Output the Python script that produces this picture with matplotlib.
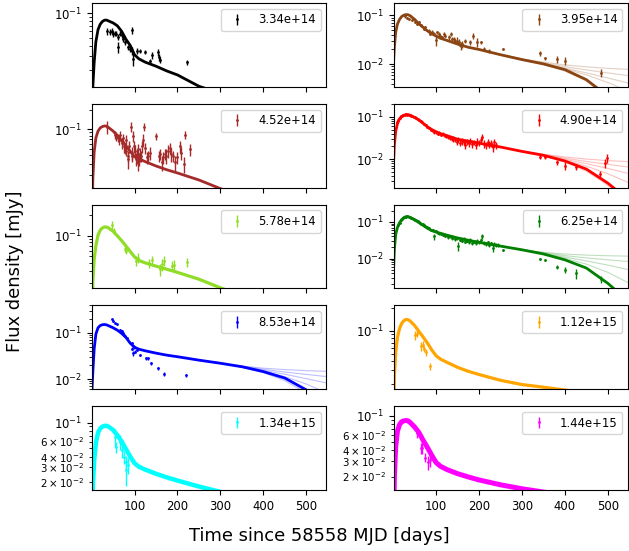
import matplotlib
matplotlib.use('Agg')
import matplotlib.pyplot as plt

# frequencies of the ten bands (one panel each, row by row)
freqs = [3.34e14, 3.95e14, 4.52e14, 4.90e14, 5.78e14,
         6.25e14, 8.53e14, 1.12e15, 1.34e15, 1.44e15]
colors = ['black', 'saddlebrown', 'brown', 'red', '#90dd28',
          'green', 'blue', 'orange', 'cyan', 'magenta']

# model light curves (median)
t_model = [1, 3, 6, 10, 15, 20, 25, 30, 35, 40, 50, 60, 70, 80, 90, 100,
           110, 125, 150, 175, 200, 250, 300, 350, 400, 450, 500, 547]
m_334 = [0.004, 0.013, 0.025, 0.045, 0.063, 0.073, 0.079, 0.082, 0.0822, 0.080,
         0.076, 0.070, 0.060, 0.048, 0.0403, 0.031, 0.0277, 0.0252, 0.0225, 0.0197,
         0.0176, 0.0128, 0.0105, 0.009, 0.008, 0.007, 0.006, 0.0055]
m_395 = [0.011, 0.022, 0.045, 0.066, 0.083, 0.095, 0.101, 0.104, 0.103, 0.098,
         0.083, 0.067, 0.057, 0.048, 0.042, 0.0378, 0.034, 0.0308, 0.0258, 0.0222,
         0.020, 0.0156, 0.0124, 0.0101, 0.0077, 0.0048, 0.0022, 0.0008]
m_452 = [0.004, 0.018, 0.045, 0.074, 0.094, 0.105, 0.110, 0.1125, 0.112, 0.106,
         0.094, 0.080, 0.067, 0.056, 0.046, 0.038, 0.0355, 0.032, 0.0275, 0.0241,
         0.0215, 0.0168, 0.0124, 0.0095, 0.0075, 0.006, 0.005, 0.004]
m_490 = [0.008, 0.022, 0.045, 0.068, 0.090, 0.102, 0.109, 0.113, 0.113, 0.109,
         0.097, 0.084, 0.070, 0.058, 0.050, 0.0445, 0.040, 0.036, 0.0295, 0.0266,
         0.0238, 0.0193, 0.0152, 0.0123, 0.0090, 0.0058, 0.0027, 0.0011]
m_578 = [0.006, 0.022, 0.045, 0.072, 0.103, 0.121, 0.131, 0.1355, 0.135, 0.130,
         0.117, 0.100, 0.085, 0.071, 0.059, 0.049, 0.0435, 0.040, 0.0358, 0.0323,
         0.029, 0.023, 0.0172, 0.013, 0.010, 0.008, 0.0065, 0.0055]
m_625 = [0.005, 0.018, 0.045, 0.070, 0.095, 0.115, 0.131, 0.139, 0.139, 0.131,
         0.113, 0.096, 0.080, 0.067, 0.058, 0.053, 0.049, 0.0435, 0.0365, 0.0316,
         0.0276, 0.0218, 0.0173, 0.0133, 0.0092, 0.0055, 0.0021, 0.0007]
m_853 = [0.006, 0.015, 0.045, 0.095, 0.130, 0.145, 0.151, 0.153, 0.150, 0.143,
         0.130, 0.115, 0.098, 0.080, 0.060, 0.049, 0.0445, 0.041, 0.0365, 0.033,
         0.0305, 0.0257, 0.022, 0.0185, 0.0145, 0.0105, 0.0058, 0.0025]
m_112 = [0.008, 0.025, 0.052, 0.082, 0.108, 0.126, 0.137, 0.142, 0.141, 0.135,
         0.118, 0.099, 0.083, 0.069, 0.056, 0.047, 0.0425, 0.0385, 0.033, 0.0292,
         0.0265, 0.0222, 0.0195, 0.018, 0.0165, 0.015, 0.014, 0.013]
m_134 = [0.006, 0.018, 0.036, 0.058, 0.076, 0.085, 0.0895, 0.0915, 0.0915, 0.089,
         0.082, 0.071, 0.060, 0.049, 0.040, 0.0335, 0.0305, 0.0282, 0.0252, 0.0229,
         0.021, 0.0179, 0.0155, 0.0137, 0.0123, 0.011, 0.010, 0.0093]
m_144 = [0.006, 0.020, 0.044, 0.066, 0.079, 0.085, 0.087, 0.0878, 0.087, 0.083,
         0.074, 0.064, 0.052, 0.043, 0.035, 0.029, 0.0263, 0.0241, 0.0216, 0.0198,
         0.0183, 0.0161, 0.0145, 0.0133, 0.0122, 0.0113, 0.0106, 0.010]
# apparent width of the band of model realisations
band_lw = [2, 2, 2, 2, 2.3, 2, 2, 2.3, 3.2, 3.6]

# spread of the model realisations at late times
t_fan = [250, 300, 350, 400, 450, 500, 547]
fan_395 = [[0.0157, 0.0128, 0.0110, 0.0096, 0.0088, 0.0082, 0.0078],
           [0.0157, 0.0127, 0.0106, 0.0089, 0.0076, 0.0066, 0.0058],
           [0.0156, 0.0125, 0.0103, 0.0083, 0.0066, 0.0052, 0.0041],
           [0.0156, 0.0124, 0.0100, 0.0080, 0.0060, 0.0042, 0.0028],
           [0.0155, 0.0122, 0.0098, 0.0072, 0.0045, 0.0020, 0.0007]]
fan_490 = [[0.0194, 0.0156, 0.0130, 0.0112, 0.0100, 0.0092, 0.0087],
           [0.0194, 0.0155, 0.0127, 0.0105, 0.0088, 0.0075, 0.0065],
           [0.0193, 0.0153, 0.0124, 0.0099, 0.0078, 0.0060, 0.0046],
           [0.0193, 0.0152, 0.0121, 0.0094, 0.0068, 0.0045, 0.0028],
           [0.0192, 0.0150, 0.0118, 0.0086, 0.0052, 0.0024, 0.0009]]
fan_625 = [[0.0219, 0.0176, 0.0148, 0.0132, 0.0124, 0.0119, 0.0116],
           [0.0219, 0.0175, 0.0143, 0.0120, 0.0104, 0.0092, 0.0083],
           [0.0218, 0.0174, 0.0139, 0.0110, 0.0086, 0.0066, 0.0050],
           [0.0218, 0.0173, 0.0136, 0.0102, 0.0070, 0.0042, 0.0022],
           [0.0217, 0.0172, 0.0133, 0.0095, 0.0055, 0.0022, 0.0006]]
fan_853 = [[0.0258, 0.0222, 0.0192, 0.0172, 0.0160, 0.0152, 0.0147],
           [0.0258, 0.0221, 0.0189, 0.0163, 0.0142, 0.0126, 0.0113],
           [0.0257, 0.0220, 0.0186, 0.0155, 0.0127, 0.0102, 0.0082],
           [0.0257, 0.0219, 0.0183, 0.0148, 0.0112, 0.0078, 0.0050],
           [0.0256, 0.0218, 0.0180, 0.0138, 0.0092, 0.0050, 0.0022]]

# observations
t_334 = [36, 43, 47, 50, 54, 58, 62, 62, 66, 70, 74, 77, 85, 89, 95, 95, 97,
         105, 112, 124, 136, 140, 155, 157, 160, 222]
f_334 = [0.060, 0.0588, 0.060, 0.0561, 0.057, 0.0561, 0.051, 0.0384, 0.0561,
         0.0535, 0.0487, 0.0443, 0.0384, 0.0366, 0.0616, 0.0349, 0.0276, 0.0349,
         0.0349, 0.0333, 0.0258, 0.0309, 0.0333, 0.0289, 0.0268, 0.0251]
e_334 = [0.006, 0.005, 0.005, 0.005, 0.004, 0.004, 0.004, 0.006, 0.004, 0.004,
         0.004, 0.003, 0.003, 0.003, 0.006, 0.004, 0.005, 0.003, 0.002, 0.002,
         0.002, 0.003, 0.003, 0.003, 0.002, 0.002]

t_395 = [27, 33, 37, 44, 52, 56, 60, 64, 71, 75, 83, 87, 91, 95, 99, 102, 106,
         110, 114, 118, 122, 130, 134, 137, 141, 145, 149, 153, 157, 161, 168,
         180, 186, 195, 205, 211, 223, 256, 343, 353, 381, 401, 484]
f_395 = [0.0953, 0.0895, 0.0853, 0.0788, 0.0728, 0.0672, 0.0728, 0.0621, 0.053,
         0.0573, 0.0489, 0.0417, 0.0452, 0.0417, 0.0313, 0.0452, 0.0417, 0.0385,
         0.0356, 0.0417, 0.0385, 0.0356, 0.0417, 0.0329, 0.0329, 0.0304, 0.0304,
         0.0281, 0.0239, 0.0259, 0.0304, 0.0281, 0.0385, 0.0281, 0.0281, 0.0204,
         0.0189, 0.0204, 0.0166, 0.0131, 0.0127, 0.0117, 0.0067]
e_395 = [0.008, 0.004, 0.004, 0.003, 0.003, 0.003, 0.004, 0.003, 0.003, 0.003,
         0.003, 0.003, 0.004, 0.003, 0.008, 0.003, 0.004, 0.003, 0.003, 0.004,
         0.003, 0.004, 0.004, 0.003, 0.003, 0.003, 0.005, 0.005, 0.004, 0.004,
         0.003, 0.003, 0.006, 0.006, 0.002, 0.002, 0.002, 0.001, 0.002, 0.001,
         0.002, 0.002, 0.0012]

t_452 = [36, 54, 58, 62, 64, 67, 70, 74, 75, 77, 80, 81, 84, 85, 88, 91, 93, 95,
         97, 98, 101, 103, 105, 107, 108, 111, 112, 116, 118, 120, 122, 124, 128,
         132, 136, 151, 157, 160, 163, 167, 170, 174, 178, 182, 186, 190, 194,
         198, 205, 209, 215, 218, 230]
f_452 = [0.110, 0.0828, 0.0782, 0.0738, 0.0697, 0.0828, 0.0622, 0.0738, 0.0554,
         0.0523, 0.0697, 0.0467, 0.0393, 0.0351, 0.0554, 0.110, 0.0441, 0.0393,
         0.0782, 0.0554, 0.0467, 0.0351, 0.0393, 0.0313, 0.0494, 0.0351, 0.0416,
         0.0393, 0.0554, 0.0697, 0.110, 0.0523, 0.0371, 0.0393, 0.0441, 0.0782,
         0.0393, 0.0416, 0.0313, 0.0371, 0.0416, 0.0393, 0.0467, 0.0523, 0.0416,
         0.0393, 0.0313, 0.0371, 0.0554, 0.0441, 0.0295, 0.0828, 0.0494]
e_452 = [0.025, 0.012, 0.012, 0.010, 0.012, 0.010, 0.012, 0.010, 0.012, 0.010,
         0.012, 0.008, 0.008, 0.010, 0.012, 0.020, 0.010, 0.008, 0.015, 0.012,
         0.010, 0.008, 0.010, 0.008, 0.010, 0.008, 0.010, 0.008, 0.012, 0.015,
         0.015, 0.010, 0.008, 0.008, 0.010, 0.010, 0.008, 0.008, 0.008, 0.008,
         0.008, 0.010, 0.010, 0.010, 0.010, 0.008, 0.008, 0.008, 0.012, 0.010,
         0.008, 0.012, 0.010]

t_490 = [10, 12, 15, 18, 21, 24, 27, 30, 33, 36, 39, 42, 45, 48, 51, 54, 57, 60,
         64, 68, 72, 76, 80, 84, 88, 92, 96, 100, 104, 108, 112, 116, 120, 124,
         128, 132, 136, 140, 144, 148, 152, 156, 160, 164, 168, 172, 176, 180,
         184, 188, 192, 196, 200, 204, 208, 212, 216, 220, 224, 228, 232, 236,
         240, 343, 353, 381, 401, 427, 482, 494, 497]
f_490 = [0.075, 0.085, 0.095, 0.102, 0.107, 0.110, 0.112, 0.114, 0.113, 0.111,
         0.110, 0.106, 0.103, 0.100, 0.097, 0.092, 0.090, 0.085, 0.080, 0.074,
         0.068, 0.064, 0.057, 0.055, 0.050, 0.046, 0.044, 0.043, 0.040, 0.041,
         0.038, 0.039, 0.036, 0.035, 0.033, 0.032, 0.030, 0.031, 0.028, 0.026,
         0.029, 0.024, 0.027, 0.025, 0.022, 0.026, 0.024, 0.027, 0.023, 0.025,
         0.021, 0.026, 0.024, 0.029, 0.034, 0.023, 0.021, 0.025, 0.022, 0.024,
         0.019, 0.025, 0.021, 0.0112, 0.0110, 0.0084, 0.0070, 0.0066, 0.0045,
         0.0080, 0.0105]
e_490 = [0.004, 0.004, 0.004, 0.004, 0.004, 0.004, 0.004, 0.004, 0.004, 0.004,
         0.004, 0.004, 0.004, 0.004, 0.004, 0.004, 0.004, 0.004, 0.004, 0.004,
         0.004, 0.004, 0.003, 0.004, 0.003, 0.003, 0.004, 0.003, 0.003, 0.004,
         0.003, 0.004, 0.003, 0.004, 0.003, 0.004, 0.003, 0.005, 0.003, 0.005,
         0.004, 0.004, 0.005, 0.004, 0.005, 0.004, 0.005, 0.004, 0.005, 0.004,
         0.004, 0.005, 0.004, 0.005, 0.006, 0.005, 0.004, 0.005, 0.004, 0.005,
         0.004, 0.005, 0.004, 0.0012, 0.0008, 0.0010, 0.0015, 0.0010, 0.0008,
         0.0020, 0.0025]

t_578 = [47, 52, 78, 80, 104, 108, 134, 140, 160, 164, 168, 188, 193, 223]
f_578 = [0.145, 0.118, 0.064, 0.060, 0.043, 0.048, 0.040, 0.044, 0.032, 0.038,
         0.043, 0.036, 0.037, 0.041]
e_578 = [0.020, 0.012, 0.006, 0.006, 0.007, 0.008, 0.006, 0.007, 0.006, 0.008,
         0.007, 0.006, 0.007, 0.006]

t_625 = [12, 15, 18, 21, 24, 27, 30, 33, 36, 39, 42, 45, 48, 51, 54, 57, 60, 63,
         66, 69, 72, 75, 78, 81, 84, 88, 92, 96, 100, 104, 108, 112, 116, 120,
         124, 128, 132, 136, 140, 144, 148, 152, 156, 160, 164, 168, 172, 176,
         180, 184, 188, 192, 196, 200, 204, 208, 212, 216, 220, 224, 228, 232,
         236, 240, 245, 256, 341, 353, 381, 401, 426, 484]
f_625 = [0.082, 0.096, 0.110, 0.120, 0.130, 0.136, 0.140, 0.141, 0.138, 0.136,
         0.130, 0.128, 0.120, 0.116, 0.110, 0.104, 0.100, 0.095, 0.090, 0.085,
         0.080, 0.077, 0.072, 0.068, 0.066, 0.060, 0.059, 0.040, 0.055, 0.050,
         0.049, 0.047, 0.045, 0.042, 0.044, 0.039, 0.040, 0.037, 0.038, 0.034,
         0.036, 0.022, 0.033, 0.031, 0.034, 0.029, 0.031, 0.028, 0.032, 0.027,
         0.029, 0.026, 0.030, 0.028, 0.032, 0.040, 0.027, 0.025, 0.028, 0.024,
         0.026, 0.019, 0.025, 0.023, 0.024, 0.0168, 0.0095, 0.0092, 0.0060,
         0.0049, 0.0040, 0.0027]
e_625 = [0.005, 0.005, 0.005, 0.005, 0.005, 0.005, 0.005, 0.005, 0.005, 0.005,
         0.005, 0.005, 0.005, 0.005, 0.005, 0.005, 0.005, 0.006, 0.005, 0.005,
         0.005, 0.005, 0.004, 0.004, 0.004, 0.004, 0.006, 0.008, 0.004, 0.004,
         0.004, 0.003, 0.003, 0.004, 0.003, 0.004, 0.003, 0.004, 0.003, 0.004,
         0.003, 0.006, 0.003, 0.003, 0.004, 0.003, 0.003, 0.003, 0.004, 0.003,
         0.003, 0.003, 0.004, 0.003, 0.004, 0.006, 0.003, 0.003, 0.003, 0.003,
         0.003, 0.004, 0.003, 0.003, 0.003, 0.001, 0.0006, 0.0006, 0.0008,
         0.0010, 0.0012, 0.0006]

t_853 = [46.5, 50.3, 54.2, 58.1, 65.8, 67.3, 69.7, 72, 75.1, 77.4, 81.3, 93,
         94.5, 96.8, 98.4, 100.7, 104.6, 112.2, 127.7, 131.6, 139.4, 154.9,
         168.1, 220.7]
f_853 = [0.198, 0.181, 0.167, 0.153, 0.118, 0.108, 0.112, 0.100, 0.092, 0.084,
         0.077, 0.060, 0.046, 0.036, 0.050, 0.039, 0.043, 0.033, 0.028, 0.028,
         0.022, 0.017, 0.013, 0.012]
e_853 = [0.008, 0.007, 0.007, 0.006, 0.005, 0.005, 0.005, 0.004, 0.004, 0.004,
         0.004, 0.004, 0.004, 0.004, 0.004, 0.003, 0.003, 0.002, 0.002, 0.002,
         0.002, 0.0015, 0.0015, 0.001]

t_112 = [50, 56, 65, 69, 73, 77, 85]
f_112 = [0.088, 0.092, 0.063, 0.066, 0.058, 0.052, 0.034]
e_112 = [0.012, 0.010, 0.008, 0.007, 0.006, 0.006, 0.004]

t_134 = [54, 58, 66, 70, 75, 79, 81, 85]
f_134 = [0.068, 0.052, 0.060, 0.048, 0.040, 0.035, 0.028, 0.032]
e_134 = [0.016, 0.008, 0.012, 0.009, 0.007, 0.006, 0.010, 0.007]

t_144 = [56, 65, 68, 75, 81, 85]
f_144 = [0.063, 0.042, 0.043, 0.033, 0.029, 0.031]
e_144 = [0.007, 0.006, 0.007, 0.004, 0.005, 0.005]

ylims = [(0.01256, 0.133), (0.0034, 0.18), (0.0128, 0.246), (0.0021, 0.204),
         (0.0168, 0.29), (0.00152, 0.298), (0.006, 0.40), (0.0169, 0.219),
         (0.0163, 0.1557), (0.01403, 0.1286)]

models = [m_334, m_395, m_452, m_490, m_578, m_625, m_853, m_112, m_134, m_144]
fans = [None, fan_395, None, fan_490, None, fan_625, fan_853, None, None, None]
obs = [(t_334, f_334, e_334), (t_395, f_395, e_395), (t_452, f_452, e_452),
       (t_490, f_490, e_490), (t_578, f_578, e_578), (t_625, f_625, e_625),
       (t_853, f_853, e_853), (t_112, f_112, e_112), (t_134, f_134, e_134),
       (t_144, f_144, e_144)]

fs = 8.4
fig = plt.figure(figsize=(6.29, 5.51), dpi=100)
axes = fig.subplots(5, 2, sharex=True)
fig.subplots_adjust(left=0.1463, right=0.9984, top=0.9946, bottom=0.1107,
                    hspace=0.2, wspace=0.286)

for i, ax in enumerate(axes.flat):
    c = colors[i]
    ax.plot(t_model, models[i], color=c, lw=band_lw[i], zorder=2)
    if fans[i] is not None:
        for curve in fans[i]:
            ax.plot(t_fan, curve, color=c, lw=0.8, alpha=0.25, zorder=1)
    t, f, e = obs[i]
    ax.errorbar(t, f, yerr=e, fmt='.', ms=2, lw=1, color=c, zorder=3,
                label='%.2e' % freqs[i])
    ax.set_yscale('log')
    ax.set_ylim(ylims[i])
    ax.set_xlim(1, 547)
    ax.tick_params(labelsize=fs)
    ax.tick_params(axis='y', which='minor', labelsize=7.4)
    ax.legend(loc='upper right', fontsize=fs)

fig.text(0.507, 0.028, 'Time since 58558 MJD [days]', ha='center', va='center',
         fontsize=12.9)
fig.text(0.024, 0.508, 'Flux density [mJy]', rotation=90, ha='center',
         va='center', fontsize=12.9)

fig.savefig('out.png', dpi=100)
